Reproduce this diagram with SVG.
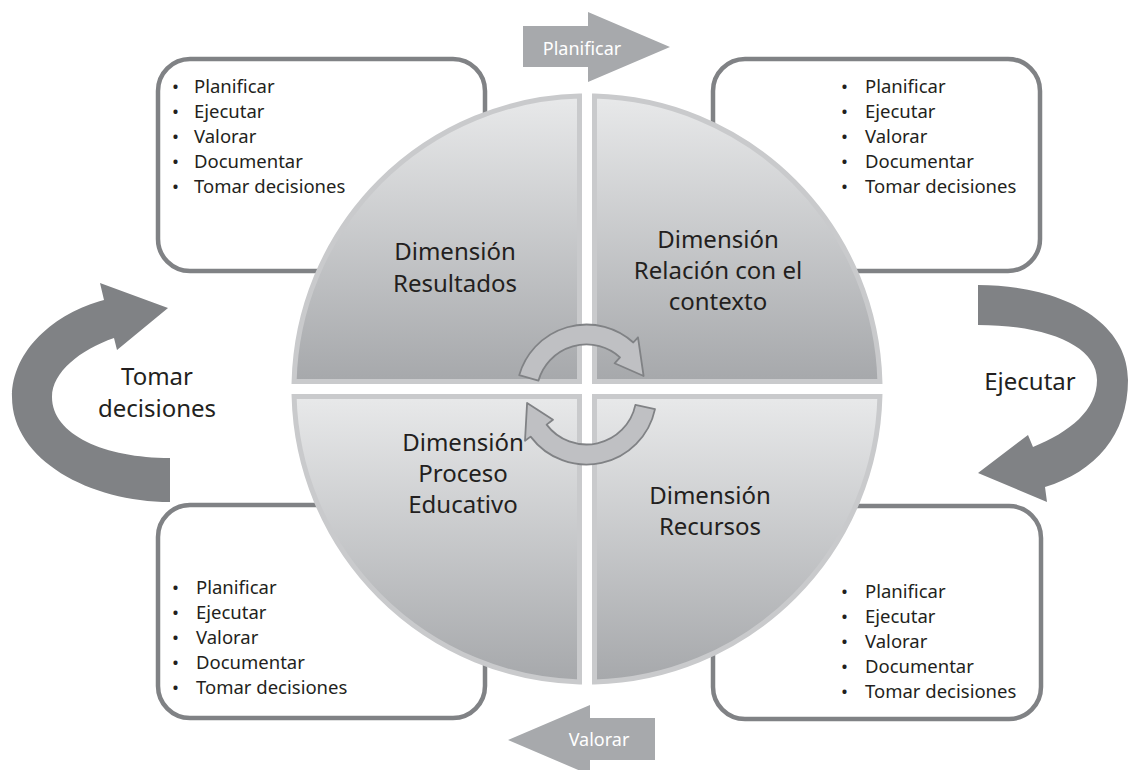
<svg xmlns="http://www.w3.org/2000/svg" width="1128" height="770" viewBox="0 0 1128 770">
<defs>
<linearGradient id="qg" x1="0" y1="0" x2="0" y2="1">
<stop offset="0" stop-color="#e8e9ea"/>
<stop offset="1" stop-color="#a6a8ab"/>
</linearGradient>
<style>
.box{fill:#fff;stroke:#808285;stroke-width:4.5}
.q{fill:url(#qg);stroke:#c9cacc;stroke-width:5}
.ring{fill:#bfc0c3;stroke:#808285;stroke-width:1.8;stroke-linejoin:round}
.big{fill:#808285}
.flat{fill:#a7a9ac}
.t{font-family:"Noto Sans","Open Sans","Liberation Sans",sans-serif;fill:#231f20}
.item{font-size:18.5px}
.lbl{font-size:24px;text-anchor:middle}
.wt{font-family:"Noto Sans","Open Sans","Liberation Sans",sans-serif;fill:#fff;font-size:18px;text-anchor:middle}
</style>
</defs>
<rect width="1128" height="770" fill="#fff"/>

<g id="box-tl">
<rect class="box" x="158" y="59" width="327" height="212" rx="32"/>
<text class="t item"><tspan x="172" y="93">•</tspan><tspan x="194" y="93">Planificar</tspan><tspan x="172" y="118">•</tspan><tspan x="194" y="118">Ejecutar</tspan><tspan x="172" y="143">•</tspan><tspan x="194" y="143">Valorar</tspan><tspan x="172" y="168">•</tspan><tspan x="194" y="168">Documentar</tspan><tspan x="172" y="193">•</tspan><tspan x="194" y="193">Tomar decisiones</tspan></text>
</g>
<g id="box-tr">
<rect class="box" x="713" y="59" width="327" height="212" rx="32"/>
<text class="t item"><tspan x="841" y="93">•</tspan><tspan x="865" y="93">Planificar</tspan><tspan x="841" y="118">•</tspan><tspan x="865" y="118">Ejecutar</tspan><tspan x="841" y="143">•</tspan><tspan x="865" y="143">Valorar</tspan><tspan x="841" y="168">•</tspan><tspan x="865" y="168">Documentar</tspan><tspan x="841" y="193">•</tspan><tspan x="865" y="193">Tomar decisiones</tspan></text>
</g>
<g id="box-bl">
<rect class="box" x="158" y="505" width="327" height="213" rx="32"/>
<text class="t item"><tspan x="172" y="594">•</tspan><tspan x="196" y="594">Planificar</tspan><tspan x="172" y="619">•</tspan><tspan x="196" y="619">Ejecutar</tspan><tspan x="172" y="644">•</tspan><tspan x="196" y="644">Valorar</tspan><tspan x="172" y="669">•</tspan><tspan x="196" y="669">Documentar</tspan><tspan x="172" y="694">•</tspan><tspan x="196" y="694">Tomar decisiones</tspan></text>
</g>
<g id="box-br">
<rect class="box" x="713" y="506" width="328" height="213" rx="32"/>
<text class="t item"><tspan x="841" y="598">•</tspan><tspan x="865" y="598">Planificar</tspan><tspan x="841" y="623">•</tspan><tspan x="865" y="623">Ejecutar</tspan><tspan x="841" y="648">•</tspan><tspan x="865" y="648">Valorar</tspan><tspan x="841" y="673">•</tspan><tspan x="865" y="673">Documentar</tspan><tspan x="841" y="698">•</tspan><tspan x="865" y="698">Tomar decisiones</tspan></text>
</g>

<g id="q-resultados">
<path class="q" d="M579.5,381.5 L579.5,96.1 A293,293 0 0 0 294.1,381.5 Z"/>
<text class="t lbl"><tspan x="455" y="260">Dimensión</tspan><tspan x="455" y="292">Resultados</tspan></text>
</g>
<g id="q-contexto">
<path class="q" d="M594.5,381.5 L594.5,96.1 A293,293 0 0 1 879.9,381.5 Z"/>
<text class="t lbl"><tspan x="718" y="248">Dimensión</tspan><tspan x="718" y="279">Relación con el</tspan><tspan x="718" y="310">contexto</tspan></text>
</g>
<g id="q-proceso">
<path class="q" d="M579.5,396.5 L579.5,681.9 A293,293 0 0 1 294.1,396.5 Z"/>
<text class="t lbl"><tspan x="463" y="451">Dimensión</tspan><tspan x="463" y="482">Proceso</tspan><tspan x="463" y="513">Educativo</tspan></text>
</g>
<g id="q-recursos">
<path class="q" d="M594.5,396.5 L594.5,681.9 A293,293 0 0 0 879.9,396.5 Z"/>
<text class="t lbl"><tspan x="710" y="504">Dimensión</tspan><tspan x="710" y="535">Recursos</tspan></text>
</g>

<g id="connectors">
<path class="ring" d="M519.2,375.2 A70,70 0 0 1 633.3,342.5 L638.0,337.3 L643.6,376.0 L614.6,363.3 L620.0,357.3 A50,50 0 0 0 538.4,380.7 Z"/>
<path class="ring" d="M655.0,409.1 A70,70 0 0 1 530.6,436.6 L525.0,440.8 L527.1,402.9 L553.0,419.8 L546.6,424.6 A50,50 0 0 0 635.4,404.9 Z"/>

<path class="big" d="M170,502 C90,502 12,460 12,397 C12,350 55,313 104,300 L100,283 L168,308 L117,350 L114,338 C80,350 52,372 52,397 C52,435 105,458 170,458 Z"/>
<path class="big" d="M978,285 C1060,285 1128,320 1128,380 C1128,435 1095,472 1045,487 L1047,502 L978,473 L1028,435 L1033,447 C1070,432 1097,410 1097,380 C1097,345 1045,325 978,325 Z"/>

<path class="flat" d="M523,26 L588,26 L588,12 L670,47 L588,82 L588,67 L523,67 Z"/>
<path class="flat" d="M655,718 L590,718 L590,705 L508,740 L590,775 L590,760 L655,760 Z"/>
</g>

<g id="labels">
<text class="wt" x="582" y="55">Planificar</text>
<text class="wt" x="599" y="746">Valorar</text>
<text class="t lbl" x="157" y="385">Tomar</text>
<text class="t lbl" x="157" y="417">decisiones</text>
<text class="t lbl" x="1030" y="390">Ejecutar</text>
</g>
</svg>
